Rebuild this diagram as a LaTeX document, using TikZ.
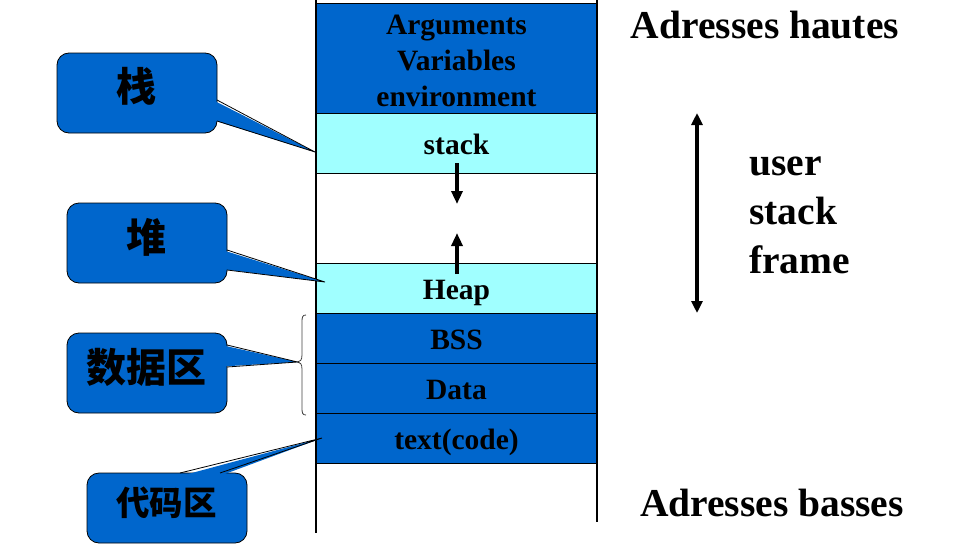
\documentclass[tikz,border=0pt]{standalone}
\usepackage{fontspec}
\setmainfont{Liberation Serif}
\newfontfamily\cjk{Noto Sans CJK SC}
\usetikzlibrary{arrows.meta}
\definecolor{dblue}{HTML}{0066CC}
\definecolor{lcyan}{HTML}{A0FFFF}
\tikzset{
  seg/.style={draw=black, line width=0.8pt, minimum width=281pt, inner sep=0pt,
    font=\fontsize{29.5}{36}\selectfont\bfseries, align=center,
    text height=24pt, text depth=1pt},
  col/.style={line width=2.6pt, black},
  arr/.style={line width=3.5pt, -{Triangle[length=13pt,width=11pt]}},
  callout/.style={draw=black, line width=0.8pt, fill=dblue, rounded corners=12pt,
    minimum width=160pt, minimum height=80pt, inner sep=0pt},
  cjktxt/.style={font=\cjk\fontsize{40}{40}\selectfont\bfseries, inner sep=0pt, anchor=base},
  ptrfill/.style={fill=dblue},
  ptrline/.style={draw=black, line width=0.8pt, line join=miter},
  bigtxt/.style={font=\fontsize{39.5}{49}\selectfont\bfseries, inner sep=0pt}
}
\begin{document}
\begin{tikzpicture}[x=1pt,y=-1pt]
\useasboundingbox (0,0) rectangle (965,554);

% memory blocks
\node[seg, fill=dblue, minimum height=110pt, text height=96pt, text depth=0pt] (args) at (456.5,58) {Arguments\\Variables\\environment};
\node[seg, fill=lcyan, minimum height=60pt] (stack) at (456.5,143) {stack};
\node[seg, fill=lcyan, minimum height=50pt] (heap) at (456.5,288) {Heap};
\node[seg, fill=dblue, minimum height=50pt] (bss) at (456.5,338) {BSS};
\node[seg, fill=dblue, minimum height=50pt] (data) at (456.5,388) {Data};
\node[seg, fill=dblue, minimum height=50pt] (code) at (456.5,438) {text(code)};

% column borders
\coordinate (lt) at (316,0); \coordinate (lb) at (316,533);
\coordinate (rt) at (597,0); \coordinate (rb) at (597,522);
\draw[col] (lt) -- (lb);
\draw[col] (rt) -- (rb);

% growth arrows
\coordinate (d1) at (457,163); \coordinate (d2) at (457,204);
\coordinate (u1) at (457,274); \coordinate (u2) at (457,233);
\draw[arr] (d1) -- (d2);
\draw[arr] (u1) -- (u2);

% right side
\node[bigtxt] (hautes) at (765,25) {Adresses hautes};
\node[bigtxt] (basses) at (772,503) {Adresses basses};
\node[bigtxt, align=left, anchor=west] (usf) at (749,215) {user\\stack\\frame};
\coordinate (ua) at (697,113); \coordinate (ub) at (697,313);
\draw[line width=3.3pt, {Triangle[length=12pt,width=11pt]}-{Triangle[length=12pt,width=11pt]}] (ua) -- (ub);

% brace
\draw[line width=0.8pt, black!75] (306,315) .. controls (302.5,315) and (302,317) .. (302,322)
  -- (302,355) .. controls (302,360) and (300,362) .. (297.5,362)
  .. controls (300,362) and (302,364) .. (302,369)
  -- (302,408) .. controls (302,413) and (302.5,415) .. (306,415);

% callout 1: zhan
\node[callout] (c1) at (137,93) {};
\node[cjktxt] (c1t) at (136.5,101.5) {栈};
\coordinate (t1) at (315,152);
\fill[ptrfill] (214,100.6) -- (t1) -- (214,120.4) -- cycle;
\draw[ptrline] (217,100) -- (t1) -- (217,121);

% callout 2: dui
\node[callout] (c2) at (147,243) {};
\node[cjktxt] (c2t) at (146.5,252.5) {堆};
\coordinate (t2) at (325,282);
\fill[ptrfill] (224,250.6) -- (t2) -- (224,269.4) -- cycle;
\draw[ptrline] (227,250) -- (t2) -- (227,270);

% callout 3: data area
\node[callout] (c3) at (147,373) {};
\node[cjktxt] (c3t) at (146.5,382.5) {数据区};
\coordinate (t3) at (297.5,362);
\fill[ptrfill] (224,345.6) -- (t3) -- (224,366.4) -- cycle;
\draw[ptrline] (227,345) -- (t3) -- (227,367);

% callout 4: code area
\node[callout, minimum height=70pt] (c4) at (167,508) {};
\node[cjktxt, font=\cjk\fontsize{33.5}{34}\selectfont\bfseries] (c4t) at (166.5,515) {代码区};
\coordinate (t4) at (322,438);
\fill[ptrfill] (180.6,476) -- (t4) -- (219.4,476) -- cycle;
\draw[ptrline] (180,473) -- (t4) -- (220,473);
\end{tikzpicture}
\end{document}
